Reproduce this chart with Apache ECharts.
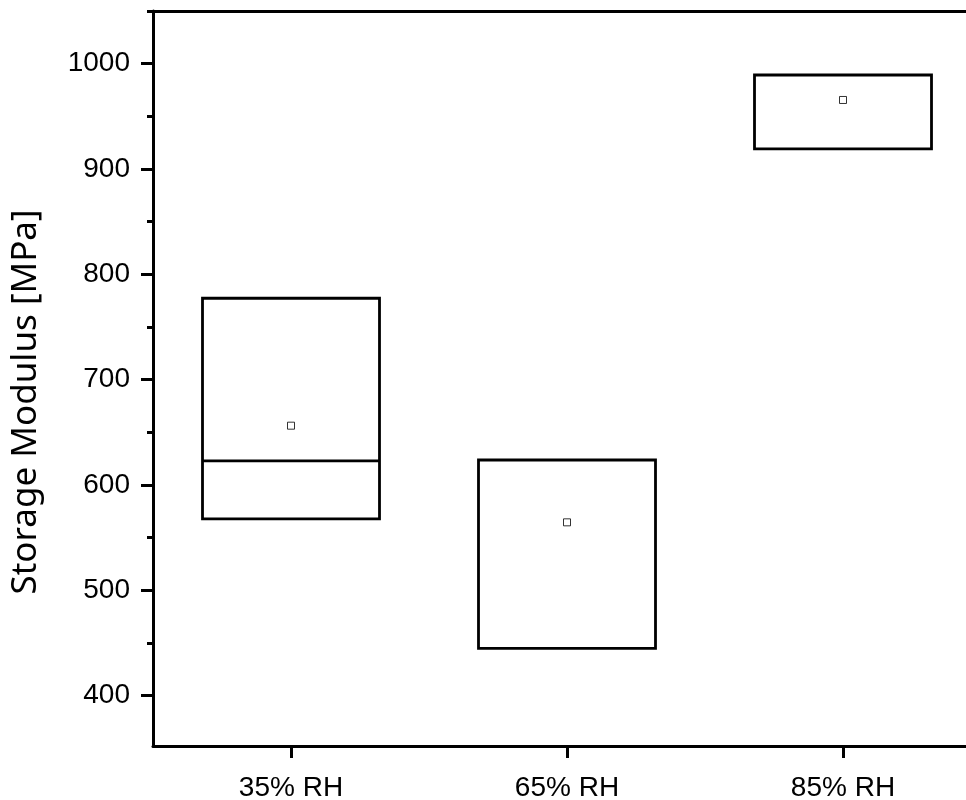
<!DOCTYPE html>
<html>
<head>
<meta charset="utf-8">
<script src="https://cdn.jsdelivr.net/npm/echarts@6/dist/echarts.min.js"></script>
<style>
  html, body { margin: 0; padding: 0; background: #fff; }
  #chart { width: 966px; height: 800px; }
</style>
</head>
<body>
<div id="chart"></div>
<script>
// Storage modulus per relative-humidity condition
const categories = ['35% RH', '65% RH', '85% RH'];
const boxLow = [567.6, 444.8, 919.0];
const boxMedian = [622.7, 623.6, 989.2];
const boxHigh = [777.2, 623.6, 989.2];
const means = [656.2, 564.4, 965.5];

// y-axis ticks
const majorTicks = [400, 500, 600, 700, 800, 900, 1000];
const minorTicks = [450, 550, 650, 750, 850, 950, 1050];
const yMin = 352;
const yMax = 1050;

// boxplot rows: [min, Q1, median, Q3, max]; whiskers collapse onto the box edges
const boxData = categories.map((c, i) => [boxLow[i], boxLow[i], boxMedian[i], boxHigh[i], boxHigh[i]]);
const meanData = categories.map((c, i) => [c, means[i]]);

const chart = echarts.init(document.getElementById('chart'), null, { renderer: 'canvas' });

const tickFont = 'Liberation Sans, Arial, sans-serif';

chart.setOption({
  animation: false,
  backgroundColor: '#fff',
  // the plot frame runs on past the right edge of the canvas
  grid: {
    left: 153, top: 11, right: -15, bottom: 54,
    containLabel: false,
    outerBoundsMode: 'none'
  },
  xAxis: [
    {
      type: 'category',
      data: categories,
      position: 'bottom',
      boundaryGap: true,
      axisLine: { show: true, lineStyle: { color: '#000', width: 3 } },
      axisTick: { show: true, alignWithLabel: true, length: 12, lineStyle: { color: '#000', width: 3 } },
      axisLabel: { color: '#000', fontSize: 28, fontFamily: tickFont, margin: 28 },
      splitLine: { show: false }
    },
    {
      type: 'category',
      data: categories,
      position: 'top',
      axisLine: { show: true, lineStyle: { color: '#000', width: 3 } },
      axisTick: { show: false },
      axisLabel: { show: false },
      splitLine: { show: false }
    }
  ],
  yAxis: [
    {
      type: 'value',
      min: yMin,
      max: yMax,
      position: 'left',
      name: 'Storage Modulus [MPa]',
      nameLocation: 'middle',
      nameGap: 109,
      nameTextStyle: {
        color: '#000', fontSize: 35, fontFamily: 'Noto Sans, Open Sans, sans-serif',
        padding: [0, 47, 0, 0]
      },
      axisLine: { show: true, lineStyle: { color: '#000', width: 3 } },
      axisTick: { show: true, length: 12, customValues: majorTicks, lineStyle: { color: '#000', width: 3 } },
      axisLabel: {
        color: '#000', fontSize: 28, fontFamily: tickFont, margin: 23,
        customValues: majorTicks,
        formatter: v => String(v)
      },
      splitLine: { show: false }
    },
    {
      type: 'value',
      min: yMin,
      max: yMax,
      position: 'left',
      axisLine: { show: false },
      axisTick: { show: true, length: 6, customValues: minorTicks, lineStyle: { color: '#000', width: 3 } },
      axisLabel: { show: false },
      splitLine: { show: false }
    }
  ],
  series: [
    {
      type: 'boxplot',
      xAxisIndex: 0,
      yAxisIndex: 0,
      data: boxData,
      boxWidth: [177, 177],
      itemStyle: { color: '#fff', borderColor: '#000', borderWidth: 2.8 },
      emphasis: { disabled: true },
      z: 2
    },
    {
      type: 'scatter',
      xAxisIndex: 0,
      yAxisIndex: 0,
      data: meanData,
      symbol: 'rect',
      symbolSize: 7,
      itemStyle: { color: '#fff', borderColor: '#000', borderWidth: 1 },
      emphasis: { disabled: true },
      z: 5
    }
  ]
});
</script>
</body>
</html>
